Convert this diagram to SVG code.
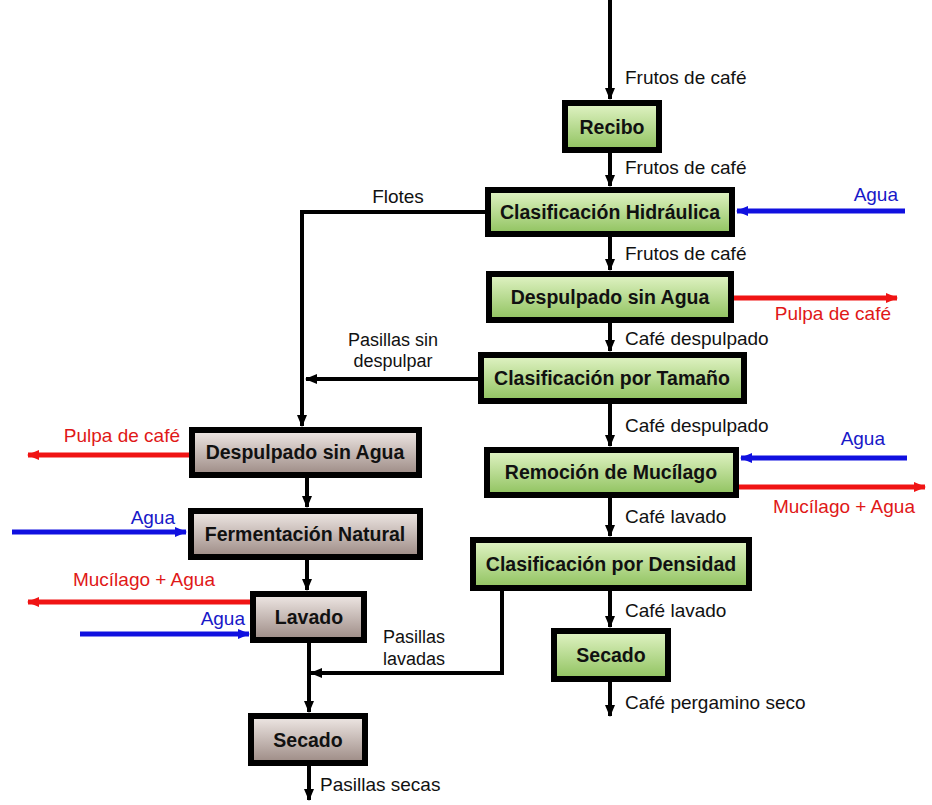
<svg xmlns="http://www.w3.org/2000/svg" width="932" height="805" viewBox="0 0 932 805">
<defs>
<linearGradient id="gG" x1="0" y1="0" x2="0" y2="1"><stop offset="0" stop-color="#e2f4c6"/><stop offset="1" stop-color="#8fc25e"/></linearGradient>
<linearGradient id="gB" x1="0" y1="0" x2="0" y2="1"><stop offset="0" stop-color="#f0e9e6"/><stop offset="1" stop-color="#9c8a84"/></linearGradient>
<marker id="aK" markerUnits="userSpaceOnUse" markerWidth="12" markerHeight="10" refX="11" refY="5" orient="auto"><path d="M0,0 L12,5 L0,10 Z" fill="#000"/></marker>
<marker id="aR" markerUnits="userSpaceOnUse" markerWidth="12" markerHeight="10" refX="11" refY="5" orient="auto"><path d="M0,0 L12,5 L0,10 Z" fill="#f01414"/></marker>
<marker id="aU" markerUnits="userSpaceOnUse" markerWidth="12" markerHeight="10" refX="11" refY="5" orient="auto"><path d="M0,0 L12,5 L0,10 Z" fill="#1010e0"/></marker>
</defs>
<style>
.bx{stroke:#000;stroke-width:6}
.g{fill:url(#gG)}
.b{fill:url(#gB)}
.nt{font-family:"Liberation Sans",Arial,sans-serif;font-weight:bold;font-size:19.5px;fill:#111;text-anchor:middle}
.lb{font-family:"Liberation Sans",Arial,sans-serif;font-size:19px;fill:#111}
.sm{font-size:18px}
.red{fill:#e01818}
.blu{fill:#1818c8}
.k{stroke:#000;stroke-width:4;fill:none;marker-end:url(#aK)}
.r{stroke:#f01414;stroke-width:5;fill:none;marker-end:url(#aR)}
.u{stroke:#1010e0;stroke-width:5;fill:none;marker-end:url(#aU)}
</style>
<rect width="932" height="805" fill="#fff"/>
<g id="connectors">
<path class="k" d="M610,0 V99"/>
<path class="k" d="M610,153 V186"/>
<path class="k" d="M610,237 V270"/>
<path class="k" d="M610,323 V351"/>
<path class="k" d="M610,404 V446"/>
<path class="k" d="M610,498 V536"/>
<path class="k" d="M610,591 V627"/>
<path class="k" d="M610,682 V716"/>
<path class="u" d="M905,211 H737"/>
<path class="r" d="M734,298 H897"/>
<path class="u" d="M907,458 H741"/>
<path class="r" d="M739,487 H925"/>
<path class="k" d="M485,212 H302 V426"/>
<path class="k" d="M478,379 H306"/>
<path class="r" d="M189,455 H28"/>
<path class="k" d="M307,478 V507"/>
<path class="u" d="M12,532 H186"/>
<path class="k" d="M307,560 V590"/>
<path class="r" d="M250,602 H28"/>
<path class="u" d="M80,634 H249"/>
<path class="k" d="M309,643 V712"/>
<path class="k" d="M502,591 V673 H311"/>
<path class="k" d="M309,766 V800"/>
</g>
<g id="recibo"><rect class="bx g" x="565" y="103" width="94" height="47"/><text class="nt" x="612" y="134">Recibo</text></g>
<g id="clas-hidraulica"><rect class="bx g" x="488" y="190" width="244" height="44"/><text class="nt" x="610" y="219">Clasificación Hidráulica</text></g>
<g id="despulpado-r"><rect class="bx g" x="489" y="274" width="242" height="46"/><text class="nt" x="610" y="304">Despulpado sin Agua</text></g>
<g id="clas-tamano"><rect class="bx g" x="481" y="355" width="263" height="46"/><text class="nt" x="612" y="385">Clasificación por Tamaño</text></g>
<g id="remocion"><rect class="bx g" x="487" y="450" width="249" height="45"/><text class="nt" x="611" y="479">Remoción de Mucílago</text></g>
<g id="clas-densidad"><rect class="bx g" x="473" y="540" width="276" height="48"/><text class="nt" x="611" y="571">Clasificación por Densidad</text></g>
<g id="secado-r"><rect class="bx g" x="554" y="631" width="114" height="48"/><text class="nt" x="611" y="662">Secado</text></g>
<g id="despulpado-l"><rect class="bx b" x="192" y="430" width="227" height="45"/><text class="nt" x="305" y="459">Despulpado sin Agua</text></g>
<g id="fermentacion"><rect class="bx b" x="191" y="511" width="229" height="46"/><text class="nt" x="305" y="541">Fermentación Natural</text></g>
<g id="lavado"><rect class="bx b" x="253" y="594" width="111" height="46"/><text class="nt" x="309" y="624">Lavado</text></g>
<g id="secado-l"><rect class="bx b" x="251" y="716" width="114" height="47"/><text class="nt" x="308" y="747">Secado</text></g>
<g id="labels">
<text class="lb" x="625" y="84">Frutos de café</text>
<text class="lb" x="625" y="174">Frutos de café</text>
<text class="lb" x="625" y="260">Frutos de café</text>
<text class="lb" x="625" y="345">Café despulpado</text>
<text class="lb" x="625" y="432">Café despulpado</text>
<text class="lb" x="625" y="523">Café lavado</text>
<text class="lb" x="625" y="617">Café lavado</text>
<text class="lb" x="625" y="709">Café pergamino seco</text>
<text class="lb blu" x="898" y="201" text-anchor="end">Agua</text>
<text class="lb red" x="891" y="320" text-anchor="end">Pulpa de café</text>
<text class="lb blu" x="885" y="445" text-anchor="end">Agua</text>
<text class="lb red" x="915" y="513" text-anchor="end">Mucílago + Agua</text>
<text class="lb" x="398" y="203" text-anchor="middle">Flotes</text>
<text class="lb sm" x="393" y="346" text-anchor="middle">Pasillas sin</text>
<text class="lb sm" x="393" y="367" text-anchor="middle">despulpar</text>
<text class="lb red" x="180" y="442" text-anchor="end">Pulpa de café</text>
<text class="lb blu" x="175" y="524" text-anchor="end">Agua</text>
<text class="lb red" x="215" y="586" text-anchor="end">Mucílago + Agua</text>
<text class="lb blu" x="245" y="625" text-anchor="end">Agua</text>
<text class="lb sm" x="383" y="643">Pasillas</text>
<text class="lb sm" x="383" y="665">lavadas</text>
<text class="lb" x="320" y="791">Pasillas secas</text>
</g>
</svg>
